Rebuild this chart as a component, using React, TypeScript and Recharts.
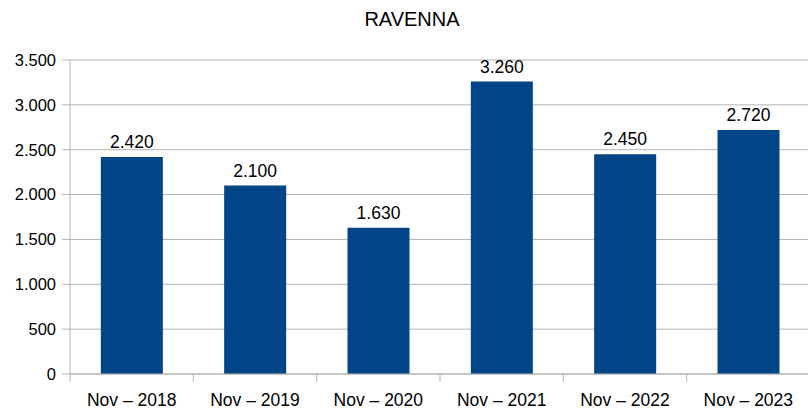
import React from "react"
import { BarChart, Bar, XAxis, YAxis, CartesianGrid, LabelList } from "recharts"

const categories = ["Nov – 2018", "Nov – 2019", "Nov – 2020", "Nov – 2021", "Nov – 2022", "Nov – 2023"]
const values = [2420, 2100, 1630, 3260, 2450, 2720]
const yTicks = [0, 500, 1000, 1500, 2000, 2500, 3000, 3500]

const data = categories.map((c, i) => ({ name: c, value: values[i] }))

const CHART_W = 810
const PLOT_LEFT = 70
const PLOT_BOTTOM = 374
const BAND = (CHART_W - PLOT_LEFT) / categories.length
const GRID = "#b3b3b3"
const FONT = "'Liberation Sans', Arial, sans-serif"

// 3500 -> "3.500"
const fmt = (v: number) => String(v).replace(/\B(?=(\d{3})+(?!\d))/g, ".")

function CatTick(props: any) {
  const { x, payload, index } = props
  const left = x - BAND / 2
  return (
    <g>
      <line x1={left} x2={left} y1={PLOT_BOTTOM} y2={PLOT_BOTTOM + 8} stroke={GRID} />
      {index === categories.length - 1 && (
        <line x1={left + BAND} x2={left + BAND} y1={PLOT_BOTTOM} y2={PLOT_BOTTOM + 8} stroke={GRID} />
      )}
      <text x={x} y={PLOT_BOTTOM + 32} textAnchor="middle" fontSize={17.5} fill="#000" fontFamily={FONT}>
        {payload.value}
      </text>
    </g>
  )
}

export default function App() {
  return (
    <div style={{ position: "absolute", left: 0, top: 0, width: 808, height: 409, overflow: "hidden", background: "#fff", fontFamily: FONT }}>
      <div style={{ position: "absolute", left: 0, width: 824, top: 8, textAlign: "center", fontSize: 20, color: "#000" }}>
        RAVENNA
      </div>
      <BarChart
        width={CHART_W}
        height={409}
        data={data}
        margin={{ top: 60, right: 0, left: 0, bottom: 0 }}
        barCategoryGap="25%"
      >
        <CartesianGrid vertical={false} stroke={GRID} />
        <XAxis
          dataKey="name"
          height={35}
          axisLine={{ stroke: GRID }}
          tickLine={false}
          tick={<CatTick />}
          interval={0}
        />
        <YAxis
          width={70}
          domain={[0, 3500]}
          ticks={yTicks}
          tickFormatter={fmt}
          axisLine={{ stroke: GRID }}
          tickLine={{ stroke: GRID }}
          tickSize={8}
          tickMargin={6}
          tick={{ fontSize: 16.5, fill: "#000", fontFamily: FONT }}
        />
        <Bar dataKey="value" fill="#004586" isAnimationActive={false}>
          <LabelList dataKey="value" position="top" offset={9} formatter={(v: any) => fmt(Number(v))} fill="#000" fontSize={17.5} fontFamily={FONT} />
        </Bar>
      </BarChart>
    </div>
  )
}
